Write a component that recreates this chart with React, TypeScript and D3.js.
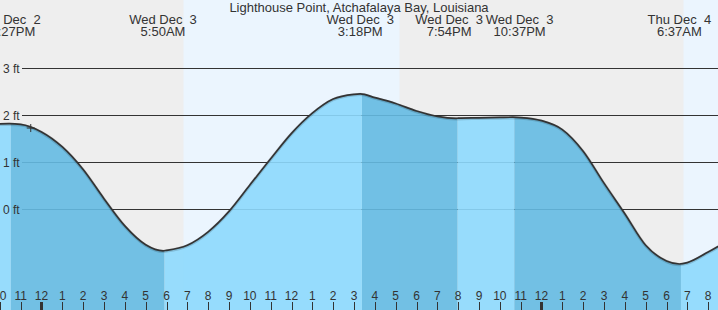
import React from 'react';
import * as d3 from 'd3';

const W = 718;
const H = 310;

const title = 'Lighthouse Point, Atchafalaya Bay, Louisiana';

// hourly tide heights (ft), starting 9 PM Dec 2
const hourStart = Date.UTC(2025, 11, 2, 21);
const hourlyFt = [
  1.70, 1.81, 1.80, 1.64, 1.32, 0.84, 0.22, -0.36, -0.76, -0.88,
  -0.77, -0.485, -0.05, 0.51, 1.07, 1.61, 2.04, 2.34, 2.44, 2.37,
  2.245, 2.085, 1.97, 1.932, 1.94, 1.948, 1.945, 1.88, 1.69, 1.23,
  0.55, -0.10, -0.77, -1.105, -1.14, -0.915, -0.66,
];

// high / low tide events
const eventTimes = [
  Date.UTC(2025, 11, 2, 22, 27),
  Date.UTC(2025, 11, 3, 5, 50),
  Date.UTC(2025, 11, 3, 15, 18),
  Date.UTC(2025, 11, 3, 19, 54),
  Date.UTC(2025, 11, 3, 22, 37),
  Date.UTC(2025, 11, 4, 6, 37),
];
const eventFt = [1.815, -0.89, 2.45, 1.93, 1.953, -1.17];
const eventKind = ['H', 'L', 'H', 'L', 'H', 'L'];

// sunrise / sunset
const sunrise = [Date.UTC(2025, 11, 3, 6, 49), Date.UTC(2025, 11, 4, 6, 49)];
const sunset = [Date.UTC(2025, 11, 3, 17, 11), Date.UTC(2025, 11, 4, 17, 10)];

const nowTime = Date.UTC(2025, 11, 2, 23, 29);
const gridFt = [0, 1, 2, 3];
const tickStart = Date.UTC(2025, 11, 2, 21);
const tickEnd = Date.UTC(2025, 11, 4, 9);

const FONT = '"Liberation Sans", Arial, sans-serif';
const TXT = '#333';
const NIGHT_BG = '#eeeeee';
const DAY_BG = '#ebf5fe';
const FALL_FILL = '#64bae2';
const RISE_FILL = '#8dd9fd';
const FILL_OPACITY = 0.9;
const LABEL_W = 68;
const LABEL_GAP = 2.5;
const SHADE_SHIFT = 1.6;

type Pt = { t: number; ft: number };

function spreadLabels(xs: number[]): number[] {
  const out = xs.slice();
  const need = LABEL_W + LABEL_GAP;
  for (let k = 0; k < 10; k++) {
    for (let i = 0; i < out.length - 1; i++) {
      const d = out[i + 1] - out[i];
      if (d < need) {
        const p = (need - d) / 2;
        out[i] -= p;
        out[i + 1] += p;
      }
    }
  }
  return out;
}

export default function App() {
  const x = d3
    .scaleUtc()
    .domain([new Date(Date.UTC(2025, 11, 3, 0)), new Date(Date.UTC(2025, 11, 4, 0))])
    .range([41.5, 541.5]);
  const y = d3.scaleLinear().domain([0, 3]).range([209, 68]);

  const pts: Pt[] = hourlyFt.map((ft, i) => ({ t: hourStart + i * 3600000, ft }));
  eventTimes.forEach((t, i) => pts.push({ t, ft: eventFt[i] }));
  pts.sort((a, b) => a.t - b.t);

  const X = (t: number) => x(new Date(t));

  const area = d3
    .area<Pt>()
    .x((d) => X(d.t))
    .y0(H)
    .y1((d) => y(d.ft))
    .curve(d3.curveMonotoneX);
  const line = d3
    .line<Pt>()
    .x((d) => X(d.t))
    .y((d) => y(d.ft))
    .curve(d3.curveMonotoneX);

  const areaD = area(pts) || '';
  const lineD = line(pts) || '';

  // segments between extremes: rising (flood) light, falling (ebb) dark
  const bounds = [0, ...eventTimes.map((t) => X(t) + SHADE_SHIFT), W];
  const segs = bounds.slice(0, -1).map((b, i) => {
    const rising = i === 0 ? eventKind[0] === 'H' : eventKind[i - 1] === 'L';
    return { x0: b, x1: bounds[i + 1], fill: rising ? RISE_FILL : FALL_FILL };
  });

  // now marker
  const bis = d3.bisector((d: Pt) => d.t).left;
  const j = bis(pts, nowTime);
  const a = pts[j - 1];
  const b = pts[j];
  const nowFt = a.ft + ((b.ft - a.ft) * (nowTime - a.t)) / (b.t - a.t);
  const nx = X(nowTime);
  const ny = y(nowFt);

  const ticks = d3.utcHour.range(new Date(tickStart), new Date(tickEnd + 1));
  const fmtDay = d3.utcFormat('%a %b %e');
  const fmtTime = d3.utcFormat('%-I:%M%p');
  const labelX = spreadLabels(eventTimes.map(X));

  return (
    <svg
      width={W}
      height={H}
      style={{ position: 'absolute', left: 0, top: 0, display: 'block' }}
      fontFamily={FONT}
    >
      <defs>
        {segs.map((s, i) => (
          <clipPath id={`seg${i}`} key={i}>
            <rect x={s.x0} y={0} width={Math.max(0, s.x1 - s.x0)} height={H} />
          </clipPath>
        ))}
      </defs>
      <rect x={0} y={0} width={W} height={H} fill={NIGHT_BG} />
      {sunrise.map((sr, i) => (
        <rect
          key={i}
          x={X(sr)}
          y={0}
          width={Math.max(0, Math.min(W, X(sunset[i])) - X(sr))}
          height={H}
          fill={DAY_BG}
        />
      ))}
      {gridFt.map((g) => (
        <line
          key={g}
          x1={22}
          x2={W}
          y1={Math.round(y(g)) + 0.5}
          y2={Math.round(y(g)) + 0.5}
          stroke="#333"
          strokeWidth={1}
        />
      ))}
      {segs.map((s, i) => (
        <path key={i} d={areaD} fill={s.fill} fillOpacity={FILL_OPACITY} clipPath={`url(#seg${i})`} />
      ))}
      <path d={lineD} fill="none" stroke="#000" strokeOpacity={0.15} strokeWidth={3.2} transform="translate(0,0.6)" />
      <path d={lineD} fill="none" stroke="#333" strokeWidth={1.7} />
      <line x1={nx - 4} x2={nx + 4} y1={ny} y2={ny} stroke="#333" strokeWidth={1} />
      <line x1={nx} x2={nx} y1={ny - 4} y2={ny + 4} stroke="#333" strokeWidth={1} />
      {gridFt.map((g) => (
        <text key={g} x={3} y={y(g) + 4.5} fontSize={12} fill={TXT}>
          {`${g} ft`}
        </text>
      ))}
      <text x={359} y={12} fontSize={13} fill={TXT} textAnchor="middle">
        {title}
      </text>
      {eventTimes.map((t, i) => (
        <g key={i}>
          <text x={labelX[i]} y={24} fontSize={13} fill={TXT} textAnchor="middle" style={{ whiteSpace: 'pre' }}>
            {fmtDay(new Date(t))}
          </text>
          <text x={labelX[i]} y={36} fontSize={13} fill={TXT} textAnchor="middle">
            {fmtTime(new Date(t))}
          </text>
        </g>
      ))}
      {ticks.map((d, i) => {
        const tx = x(d);
        const h = d.getUTCHours();
        const lbl = h % 12 === 0 ? 12 : h % 12;
        const mid = h === 0;
        return (
          <g key={i}>
            <text x={tx} y={300} fontSize={12} fill={TXT} textAnchor="middle">
              {lbl}
            </text>
            {mid ? (
              <rect x={tx - 1.5} y={302} width={3} height={8} fill="#333" />
            ) : (
              <line x1={Math.round(tx) + 0.5} x2={Math.round(tx) + 0.5} y1={302} y2={310} stroke="#333" strokeWidth={1} />
            )}
          </g>
        );
      })}
    </svg>
  );
}
